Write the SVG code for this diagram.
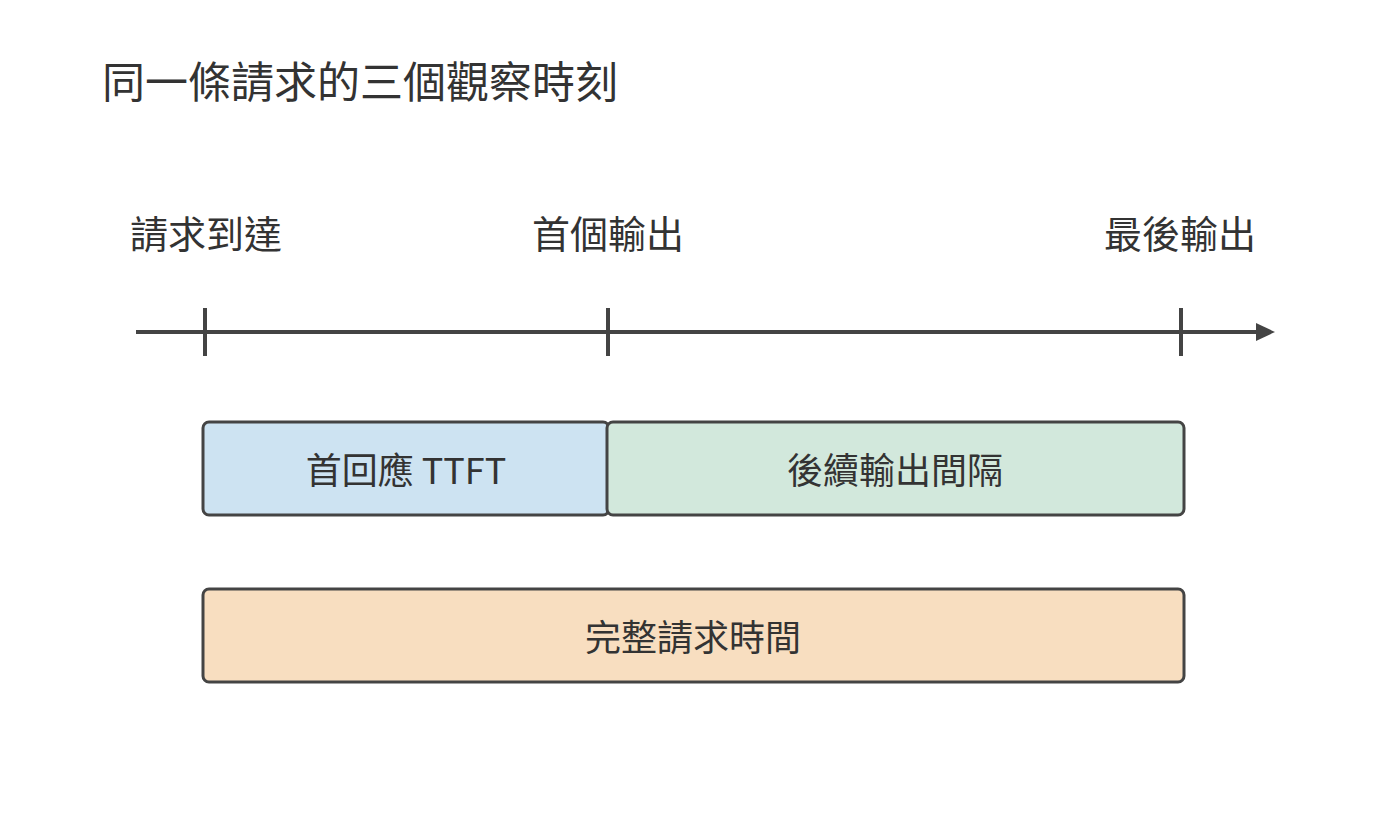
<svg xmlns="http://www.w3.org/2000/svg" width="1400" height="816" viewBox="0 0 1400 816">
<defs>
<style>
text{font-family:"Noto Sans CJK TC","Noto Sans",sans-serif;fill:#333}
.lbl{font-size:38px;text-anchor:middle}
.box{stroke:#444;stroke-width:3}
.bt{font-size:36px;text-anchor:middle;dominant-baseline:central}
.ln{stroke:#444;stroke-width:4;fill:none}
</style>
<marker id="ar" markerWidth="8" markerHeight="8" refX="4" refY="4" orient="auto" markerUnits="userSpaceOnUse" viewBox="0 0 8 8"><path d="M0,0 L8,4 L0,8 Z" fill="#444"/></marker>
</defs>
<rect width="1400" height="816" fill="#fff"/>
<text x="102" y="98" style="font-size:43px">同一條請求的三個觀察時刻</text>
<g id="labels">
<text class="lbl" x="206" y="248">請求到達</text>
<text class="lbl" x="608" y="248">首個輸出</text>
<text class="lbl" x="1180" y="248">最後輸出</text>
</g>
<g id="connectors">
<line class="ln" x1="136" y1="332" x2="1258" y2="332"/>
<path d="M1256,323 L1275,332 L1256,341 Z" fill="#444"/>
<line class="ln" x1="205" y1="308" x2="205" y2="356"/>
<line class="ln" x1="608" y1="308" x2="608" y2="356"/>
<line class="ln" x1="1181" y1="308" x2="1181" y2="356"/>
</g>
<g id="ttft"><rect class="box" x="203" y="422" width="406" height="93" rx="6" fill="#cde3f2"/><text class="bt" x="406" y="468">首回應 TTFT</text></g>
<g id="itl"><rect class="box" x="607" y="422" width="577" height="93" rx="6" fill="#d2e8dc"/><text class="bt" x="895" y="468">後續輸出間隔</text></g>
<g id="total"><rect class="box" x="203" y="589" width="981" height="93" rx="6" fill="#f8dec0"/><text class="bt" x="693" y="635">完整請求時間</text></g>
</svg>
